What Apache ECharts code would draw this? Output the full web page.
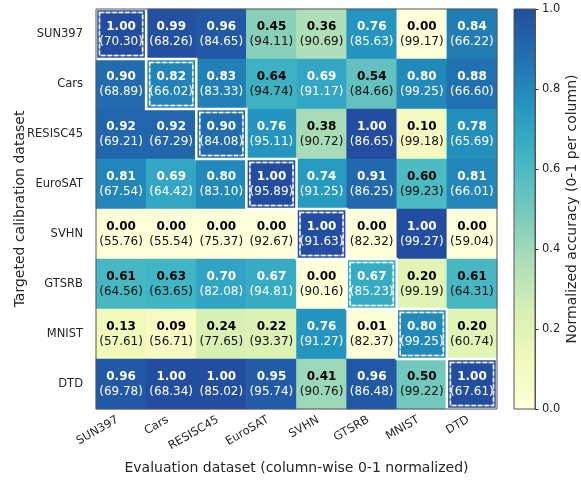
<!DOCTYPE html>
<html>
<head>
<meta charset="utf-8">
<script src="https://cdn.jsdelivr.net/npm/echarts@6/dist/echarts.min.js"></script>
<style>
  html, body { margin: 0; padding: 0; background: #fff; }
  #heat { width: 581px; height: 481px; }
</style>
</head>
<body>
<div id="heat"></div>
<script>
// evaluation datasets (columns) and targeted calibration datasets (rows)
var evalSets = ['SUN397', 'Cars', 'RESISC45', 'EuroSAT', 'SVHN', 'GTSRB', 'MNIST', 'DTD'];
var calibSets = ['SUN397', 'Cars', 'RESISC45', 'EuroSAT', 'SVHN', 'GTSRB', 'MNIST', 'DTD'];

// column-wise normalized accuracy, one row per calibration dataset
var normAcc = [
    [1.00, 0.99, 0.96, 0.45, 0.36, 0.76, 0.00, 0.84],
    [0.90, 0.82, 0.83, 0.64, 0.69, 0.54, 0.80, 0.88],
    [0.92, 0.92, 0.90, 0.76, 0.38, 1.00, 0.10, 0.78],
    [0.81, 0.69, 0.80, 1.00, 0.74, 0.91, 0.60, 0.81],
    [0.00, 0.00, 0.00, 0.00, 1.00, 0.00, 1.00, 0.00],
    [0.61, 0.63, 0.70, 0.67, 0.00, 0.67, 0.20, 0.61],
    [0.13, 0.09, 0.24, 0.22, 0.76, 0.01, 0.80, 0.20],
    [0.96, 1.00, 1.00, 0.95, 0.41, 0.96, 0.50, 1.00]
];

// raw accuracy (%) shown in brackets
var rawAcc = [
    [70.30, 68.26, 84.65, 94.11, 90.69, 85.63, 99.17, 66.22],
    [68.89, 66.02, 83.33, 94.74, 91.17, 84.66, 99.25, 66.60],
    [69.21, 67.29, 84.08, 95.11, 90.72, 86.65, 99.18, 65.69],
    [67.54, 64.42, 83.10, 95.89, 91.25, 86.25, 99.23, 66.01],
    [55.76, 55.54, 75.37, 92.67, 91.63, 82.32, 99.27, 59.04],
    [64.56, 63.65, 82.08, 94.81, 90.16, 85.23, 99.19, 64.31],
    [57.61, 56.71, 77.65, 93.37, 91.27, 82.37, 99.25, 60.74],
    [69.78, 68.34, 85.02, 95.74, 90.76, 86.48, 99.22, 67.61]
];

// YlGnBu (truncated)
var cmap = ['#ffffd9', '#f1f9b9', '#d6efb3', '#aaddb7', '#73c8bd', '#41b6c4', '#2498c1', '#2072b2', '#234da0'];

var FONT = 'DejaVu Sans';
var TXT = '#262626';

var cells = [];
for (var r = 0; r < calibSets.length; r++) {
    for (var c = 0; c < evalSets.length; c++) {
        cells.push({ value: [c, r, normAcc[r][c]], acc: rawAcc[r][c] });
    }
}
var diag = [];
for (var i = 0; i < evalSets.length; i++) diag.push([i, i]);

var cbStops = cmap.map(function (col, k) {
    return { offset: k / (cmap.length - 1), color: col };
});

var myChart = echarts.init(document.getElementById('heat'));

var option = {
    animation: false,
    backgroundColor: '#fff',
    textStyle: { fontFamily: FONT },
    grid: [
        { left: 96, top: 9, width: 401, height: 400, outerBoundsMode: 'none', containLabel: false },
        { left: 514, top: 9, width: 21, height: 400, outerBoundsMode: 'none', containLabel: false }
    ],
    xAxis: [{
        type: 'category',
        gridIndex: 0,
        data: evalSets,
        axisLine: { show: false },
        axisTick: { show: false },
        splitLine: { show: false },
        axisLabel: { rotate: 30, interval: 0, margin: 8, padding: [0, 4, 0, 0], fontSize: 11.5, color: TXT, fontFamily: FONT },
        name: 'Evaluation dataset (column-wise 0-1 normalized)',
        nameLocation: 'middle',
        nameGap: 52,
        nameMoveOverlap: false,
        nameTextStyle: { fontSize: 14, color: TXT, fontFamily: FONT }
    }, {
        type: 'category',
        gridIndex: 1,
        data: ['cb'],
        show: false
    }],
    yAxis: [{
        type: 'category',
        gridIndex: 0,
        data: calibSets,
        inverse: true,
        axisLine: { show: false },
        axisTick: { show: false },
        splitLine: { show: false },
        axisLabel: { margin: 13, fontSize: 11.5, color: TXT, fontFamily: FONT },
        name: 'Targeted calibration dataset',
        nameLocation: 'middle',
        nameGap: 69,
        nameMoveOverlap: false,
        nameTextStyle: { fontSize: 14, color: TXT, fontFamily: FONT }
    }, {
        type: 'value',
        gridIndex: 1,
        position: 'right',
        min: 0,
        max: 1,
        interval: 0.2,
        axisLine: { show: true, lineStyle: { color: '#555' } },
        axisTick: { show: true, length: 3.5, lineStyle: { color: '#333' } },
        splitLine: { show: false },
        axisLabel: {
            margin: 7, fontSize: 11.5, color: TXT, fontFamily: FONT,
            formatter: function (v) { return v.toFixed(1); }
        },
        name: 'Normalized accuracy (0-1 per column)',
        nameLocation: 'middle',
        nameRotate: 90,
        nameGap: 30,
        nameTextStyle: { fontSize: 14, color: TXT, fontFamily: FONT }
    }],
    visualMap: {
        show: false,
        min: 0,
        max: 1,
        dimension: 2,
        seriesIndex: 0,
        inRange: { color: cmap }
    },
    series: [{
        type: 'heatmap',
        xAxisIndex: 0,
        yAxisIndex: 0,
        data: cells,
        emphasis: { disabled: true },
        label: {
            show: true,
            fontFamily: FONT,
            formatter: function (p) {
                var light = p.data.value[2] > 0.65;
                var b = light ? 'bw' : 'bk';
                var n = light ? 'nw' : 'nk';
                return '{' + b + '|' + p.data.value[2].toFixed(2) + '}\n{' + n + '|(' + p.data.acc.toFixed(2) + ')}';
            },
            rich: {
                bw: { fontFamily: FONT, fontWeight: 'bold', fontSize: 12, lineHeight: 15, color: '#fff' },
                nw: { fontFamily: FONT, fontSize: 12, lineHeight: 15, color: '#fff' },
                bk: { fontFamily: FONT, fontWeight: 'bold', fontSize: 12, lineHeight: 15, color: '#000' },
                nk: { fontFamily: FONT, fontSize: 12, lineHeight: 15, color: '#111' }
            }
        }
    }, {
        // highlight on the diagonal
        type: 'custom',
        xAxisIndex: 0,
        yAxisIndex: 0,
        z: 3,
        silent: true,
        data: diag,
        renderItem: function (params, api) {
            var p = api.coord([api.value(0), api.value(1)]);
            var s = api.size([1, 1]);
            var x0 = p[0] - s[0] / 2, y0 = p[1] - s[1] / 2;
            var ins = 3.5;
            return {
                type: 'group',
                children: [{
                    type: 'rect',
                    shape: { x: x0, y: y0, width: s[0], height: s[1] },
                    style: { fill: null, stroke: '#fff', lineWidth: 2.5 }
                }, {
                    type: 'rect',
                    shape: { x: x0 + ins, y: y0 + ins, width: s[0] - 2 * ins, height: s[1] - 2 * ins },
                    style: { fill: null, stroke: 'rgba(255,255,255,0.45)', lineWidth: 1.5 }
                }, {
                    type: 'rect',
                    shape: { x: x0 + ins, y: y0 + ins, width: s[0] - 2 * ins, height: s[1] - 2 * ins },
                    style: { fill: null, stroke: '#fff', lineWidth: 1.5, lineDash: [4, 2.5] }
                }]
            };
        }
    }, {
        // frame of the heatmap
        type: 'custom',
        xAxisIndex: 0,
        yAxisIndex: 0,
        z: 4,
        silent: true,
        data: [[0, 0]],
        renderItem: function (params, api) {
            var cs = params.coordSys;
            return {
                type: 'rect',
                shape: { x: cs.x, y: cs.y, width: cs.width, height: cs.height },
                style: { fill: null, stroke: '#555', lineWidth: 1 }
            };
        }
    }, {
        // colour bar
        type: 'custom',
        xAxisIndex: 1,
        yAxisIndex: 1,
        silent: true,
        data: [[0, 1]],
        renderItem: function (params, api) {
            var top = api.coord([0, 1]);
            var bot = api.coord([0, 0]);
            var w = api.size([1, 0])[0];
            return {
                type: 'rect',
                shape: { x: top[0] - w / 2, y: top[1], width: w, height: bot[1] - top[1] },
                style: {
                    fill: new echarts.graphic.LinearGradient(0, 1, 0, 0, cbStops),
                    stroke: '#555',
                    lineWidth: 1
                }
            };
        }
    }]
};

myChart.setOption(option);
</script>
</body>
</html>
